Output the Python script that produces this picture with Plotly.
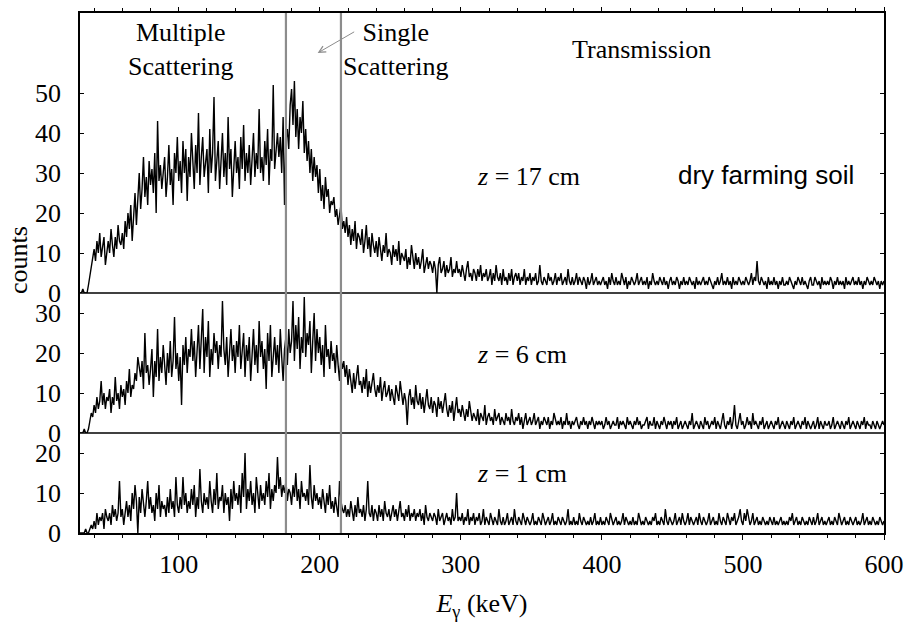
import plotly.graph_objects as go

# Energy bins (keV), 1 keV wide
energy_keV = list(range(30, 601))

# z = 17 cm
counts_17cm = [
 0,0,1,0,0,0,2,4,6,9,
 11,8,13,10,15,9,12,14,7,11,
 13,10,16,12,9,14,11,17,13,12,
 15,11,18,14,20,16,22,13,19,25,
 17,23,30,21,26,34,24,29,22,33,
 27,31,25,35,20,43,28,32,26,30,
 34,24,29,37,27,31,22,35,30,39,
 28,33,25,38,30,36,23,34,29,40,
 31,26,37,30,45,27,34,39,29,33,
 36,25,41,30,35,49,28,33,38,26,
 32,40,29,35,27,44,31,36,24,33,
 38,30,34,26,39,31,42,28,35,30,
 37,27,33,40,29,35,31,46,30,34,
 28,38,32,41,27,36,33,52,31,37,
 40,34,39,30,44,22,38,41,36,47,
 51,42,53,39,46,36,44,40,48,35,
 41,33,38,30,36,28,34,29,32,25,
 31,23,27,21,29,24,26,20,23,22,
 24,19,21,17,20,22,16,18,15,19,
 14,17,12,16,13,18,11,15,14,12,
 16,10,13,17,11,14,9,15,12,10,
 13,9,14,11,8,12,10,15,9,11,
 10,7,12,9,11,8,13,7,10,9,
 8,11,6,9,7,12,8,6,10,7,
 9,6,8,11,5,7,9,6,8,7,
 5,8,6,0,7,9,5,6,8,4,
 7,5,6,9,4,6,5,8,5,6,
 4,7,5,3,6,8,4,5,3,6,
 5,3,6,4,7,3,5,4,6,3,
 4,6,2,5,3,7,4,3,5,2,
 6,3,4,2,5,3,6,2,4,5,
 3,5,2,4,3,6,2,4,3,5,
 2,4,3,5,2,3,7,3,2,4,
 3,2,5,3,4,2,3,5,2,4,
 3,5,2,3,4,2,6,3,2,4,
 2,3,5,2,4,3,2,4,3,1,
 4,2,3,5,2,3,4,2,3,2,
 3,4,2,3,1,4,2,5,3,2,
 4,2,3,2,5,3,2,4,1,3,
 2,4,3,2,3,5,2,3,4,2,
 3,2,4,1,3,2,5,3,2,3,
 2,4,3,2,4,2,3,1,3,4,
 2,3,2,4,3,1,3,2,4,2,
 3,2,4,3,2,3,1,4,2,3,
 2,3,4,2,3,2,4,3,2,1,
 3,2,4,2,3,5,2,3,2,4,
 2,3,1,4,2,3,2,4,3,2,
 3,2,4,3,2,3,5,2,4,3,
 8,3,2,4,3,2,3,1,4,2,
 3,2,4,2,3,1,3,2,4,2,
 2,3,2,4,3,2,1,3,2,4,
 3,2,4,2,3,2,1,3,4,2,
 2,4,3,2,3,1,4,2,3,2,
 3,2,4,3,1,3,2,4,2,3,
 2,3,1,4,2,3,2,3,4,2,
 3,2,4,2,3,1,3,2,4,3,
 2,3,2,4,3,2,3,1,3,2,
 3]

# z = 6 cm
counts_6cm = [
 0,0,0,1,0,0,1,3,5,4,
 7,5,9,6,8,13,7,10,6,9,
 8,11,5,9,7,14,8,10,6,12,
 9,11,7,13,10,16,9,12,11,15,
 13,19,16,14,18,11,25,15,17,12,
 16,21,9,18,14,26,13,19,15,22,
 17,12,20,15,23,14,18,29,16,20,
 13,19,7,22,17,24,15,21,19,26,
 18,23,14,20,27,16,22,31,15,24,
 19,28,14,21,17,25,20,23,16,22,
 19,33,21,17,24,14,20,26,18,22,
 15,23,19,27,16,21,25,14,22,18,
 24,13,20,26,17,22,15,28,19,23,
 16,21,11,25,18,27,14,20,24,17,
 22,15,26,19,13,21,24,17,26,20,
 23,33,18,27,21,29,16,24,20,34,
 19,25,22,28,15,23,30,18,26,20,
 24,17,22,14,27,19,21,16,23,18,
 20,15,22,17,13,19,16,18,14,17,
 12,16,13,10,15,11,14,17,12,13,
 10,14,11,16,9,13,10,12,15,11,
 9,12,10,14,8,11,13,9,10,12,
 8,11,9,7,12,10,8,13,9,7,
 10,8,2,9,11,7,9,6,12,8,
 7,10,6,9,5,8,11,7,6,9,
 5,8,7,4,9,6,8,5,7,10,
 6,4,7,5,8,3,6,9,5,6,
 4,7,5,3,6,4,8,5,3,5,
 4,3,6,2,5,4,3,7,2,4,
 5,3,4,2,6,3,4,5,2,4,
 3,2,5,3,4,2,6,3,2,4,
 3,5,2,4,1,3,5,2,3,4,
 2,3,5,2,3,4,1,3,2,4,
 3,2,4,1,3,2,5,3,2,3,
 2,4,1,3,2,5,2,3,1,3,
 2,3,4,2,1,3,2,4,2,3,
 1,3,2,4,2,1,3,2,3,2,
 3,1,2,4,2,3,1,2,3,2,
 2,4,1,3,2,3,2,1,4,2,
 3,2,1,3,2,4,2,3,1,2,
 2,3,4,1,3,2,2,4,1,3,
 2,1,3,2,4,2,1,3,2,3,
 1,3,2,4,1,2,3,1,2,3,
 2,1,3,2,5,1,2,3,2,1,
 3,2,1,4,2,3,1,2,3,2,
 4,1,3,2,1,3,5,2,1,3,
 2,4,1,3,7,2,1,3,5,2,
 3,1,2,4,2,3,1,5,2,3,
 2,1,3,2,4,1,2,3,1,2,
 3,2,1,3,2,4,1,2,3,2,
 1,3,2,1,3,2,4,1,2,3,
 2,1,3,2,4,1,3,2,1,2,
 3,1,2,4,1,3,2,1,3,2,
 2,3,1,2,4,1,2,3,2,1,
 3,2,1,3,2,4,1,2,3,2,
 1,3,2,1,3,2,4,1,3,2,
 2,1,3,2,1,3,2,1,2,3,
 2]

# z = 1 cm
counts_1cm = [
 0,0,0,0,1,0,0,1,2,1,
 3,1,5,2,4,3,5,1,6,4,
 3,5,2,7,4,6,3,5,13,4,
 6,2,5,8,4,7,3,10,6,12,
 8,0,9,5,11,7,4,8,13,6,
 9,5,7,3,10,6,12,4,8,6,
 7,4,9,5,11,6,8,4,14,7,
 5,9,6,14,7,10,5,8,6,11,
 7,12,4,9,6,16,8,5,10,7,
 9,6,13,8,5,11,7,15,6,9,
 8,12,5,10,7,9,3,11,6,13,
 8,10,7,12,5,15,9,20,6,11,
 8,13,7,10,5,14,9,6,12,8,
 10,7,13,9,15,6,11,8,12,10,
 19,11,14,9,12,10,13,8,11,10,
 7,12,9,15,8,11,6,13,9,10,
 8,11,7,17,9,6,12,8,10,7,
 9,6,11,8,5,10,7,12,6,8,
 5,9,7,4,13,8,6,5,7,4,
 6,4,8,5,3,7,4,9,5,6,
 4,7,3,6,13,5,4,7,3,6,
 5,3,7,4,6,3,8,5,4,6,
 3,5,7,4,6,3,5,8,4,5,
 3,6,4,7,3,5,4,6,3,5,
 4,6,3,5,2,7,4,3,5,4,
 3,5,4,2,6,3,4,5,2,4,
 5,3,4,2,6,3,4,10,3,4,
 3,5,2,4,3,6,2,4,3,5,
 2,4,3,5,2,3,6,2,4,3,
 2,5,3,2,4,3,2,6,3,2,
 4,2,3,5,2,3,4,2,6,3,
 2,4,3,2,5,3,2,4,3,2,
 3,5,2,3,2,4,3,2,5,3,
 2,3,4,2,3,5,2,3,2,4,
 3,2,4,3,2,3,6,2,3,2,
 4,2,3,2,5,3,2,4,3,2,
 3,2,4,2,3,5,2,3,2,4,
 2,3,2,4,3,2,5,3,2,3,
 4,2,3,2,3,5,2,4,3,2,
 3,2,4,2,3,2,5,3,2,3,
 2,4,3,2,3,2,4,3,5,2,
 3,2,4,3,2,6,3,2,4,3,
 2,3,5,2,3,4,2,5,3,2,
 3,5,2,4,3,2,3,4,2,5,
 3,2,4,3,2,3,5,2,3,4,
 2,3,2,5,3,2,4,3,2,5,
 3,2,4,3,5,2,3,4,6,3,
 2,5,3,6,4,2,3,5,2,3,
 4,2,3,2,4,3,2,3,2,4,
 3,2,4,2,3,2,3,4,2,3,
 2,3,2,4,3,5,2,3,4,2,
 3,2,4,3,2,3,2,4,3,2,
 4,2,3,5,2,3,4,2,3,2,
 3,4,2,3,2,4,3,2,5,3,
 2,3,4,2,3,2,4,3,2,3,
 4,2,3,2,3,5,2,3,4,2,
 3,2,4,3,2,3,2,4,3,2,
 3]

# Region boundaries (keV) drawn as grey lines
scatter_bounds_keV = [176, 215]

# Panel y ranges and tick values
panel_ranges = {"y": [0, 25], "y2": [0, 35], "y3": [0, 70]}
panel_ticks = {"y": [0, 10, 20], "y2": [0, 10, 20, 30], "y3": [0, 10, 20, 30, 40, 50]}

SERIF = "Liberation Serif"
SANS = "Liberation Sans"
FS = 26

total = sum(r[1] - r[0] for r in panel_ranges.values())
d1 = (panel_ranges["y"][1]) / total
d2 = d1 + (panel_ranges["y2"][1]) / total

fig = go.Figure()
for vals, ya in [(counts_1cm, "y"), (counts_6cm, "y2"), (counts_17cm, "y3")]:
    fig.add_trace(go.Scatter(x=energy_keV[:len(vals)], y=vals, mode="lines",
                             line=dict(color="black", width=1.4),
                             xaxis="x", yaxis=ya, showlegend=False,
                             hoverinfo="skip"))

yax_common = dict(showline=True, linecolor="black", linewidth=1.5, mirror="ticks",
                  ticks="inside", ticklen=4, tickwidth=1, tickcolor="black",
                  showgrid=False, zeroline=False, anchor="x",
                  tickfont=dict(family=SERIF, size=FS, color="black"),
                  ticklabelstandoff=12)

fig.update_layout(
    width=913, height=626,
    margin=dict(l=80, r=28, t=9, b=93),
    paper_bgcolor="white", plot_bgcolor="white",
    xaxis=dict(range=[30, 600], tick0=0, dtick=100, ticks="outside", ticklen=5,
               tickwidth=1, tickcolor="black", showline=True, linecolor="black",
               linewidth=1.5, showgrid=False, zeroline=False, anchor="y",
               minor=dict(dtick=20, tick0=0, ticks="outside", ticklen=3, tickcolor="black"),
               tickfont=dict(family=SERIF, size=FS, color="black"),
               ticklabelstandoff=2,
               title=dict(text="<i>E</i><sub>γ</sub> (keV)",
                          font=dict(family=SERIF, size=FS, color="black"), standoff=16)),
    xaxis2=dict(range=[30, 600], overlaying="x", side="top", anchor="y3",
                tick0=0, dtick=100, ticks="outside", ticklen=4, tickcolor="black",
                showticklabels=False, showline=True, linecolor="black", linewidth=1.5,
                showgrid=False, zeroline=False,
                minor=dict(dtick=20, tick0=0, ticks="outside", ticklen=3, tickcolor="black")),
    yaxis=dict(domain=[0, d1], range=panel_ranges["y"], tickvals=panel_ticks["y"], **yax_common),
    yaxis2=dict(domain=[d1, d2], range=panel_ranges["y2"], tickvals=panel_ticks["y2"], **yax_common),
    yaxis3=dict(domain=[d2, 1], range=panel_ranges["y3"], tickvals=panel_ticks["y3"], **yax_common),
)

# dummy trace so xaxis2 is drawn
fig.add_trace(go.Scatter(x=[30, 600], y=[None, None], xaxis="x2", yaxis="y3",
                         showlegend=False, hoverinfo="skip"))

shapes = []
for yb in [d1, d2]:
    shapes.append(dict(type="line", xref="paper", yref="paper", x0=0, x1=1, y0=yb, y1=yb,
                       line=dict(color="black", width=1.5)))
for xb in scatter_bounds_keV:
    shapes.append(dict(type="line", xref="x", yref="paper", x0=xb, x1=xb, y0=0, y1=1,
                       line=dict(color="#8c8c8c", width=2.2)))
fig.update_layout(shapes=shapes)

tf = dict(family=SERIF, size=FS, color="black")
anns = [
    dict(text="Multiple<br>Scattering", x=101, y=61, xref="x", yref="y3", showarrow=False, font=tf),
    dict(text="Single<br>Scattering", x=254, y=61, xref="x", yref="y3", showarrow=False, font=tf),
    dict(text="Transmission", x=428, y=61, xref="x", yref="y3", showarrow=False, font=tf),
    dict(text="<i>z</i> = 17 cm", x=310, y=29.2, xref="x", yref="y3", xanchor="left", showarrow=False, font=tf),
    dict(text="dry farming soil", x=516, y=29.5, xref="x", yref="y3", showarrow=False,
         font=dict(family=SANS, size=FS, color="black")),
    dict(text="<i>z</i> = 6 cm", x=310, y=19.6, xref="x", yref="y2", xanchor="left", showarrow=False, font=tf),
    dict(text="<i>z</i> = 1 cm", x=310, y=14.9, xref="x", yref="y", xanchor="left", showarrow=False, font=tf),
    dict(text="", x=198.5, y=60, xref="x", yref="y3", showarrow=True, ax=38, ay=-22,
         arrowcolor="#8c8c8c", arrowwidth=1, arrowhead=5, arrowsize=1.3),
    dict(text="counts", x=-0.077, y=0.525, xref="paper", yref="paper", textangle=-90,
         xanchor="center", yanchor="middle", showarrow=False, font=tf),
]
fig.update_layout(annotations=anns)

fig.write_html("out.html")
